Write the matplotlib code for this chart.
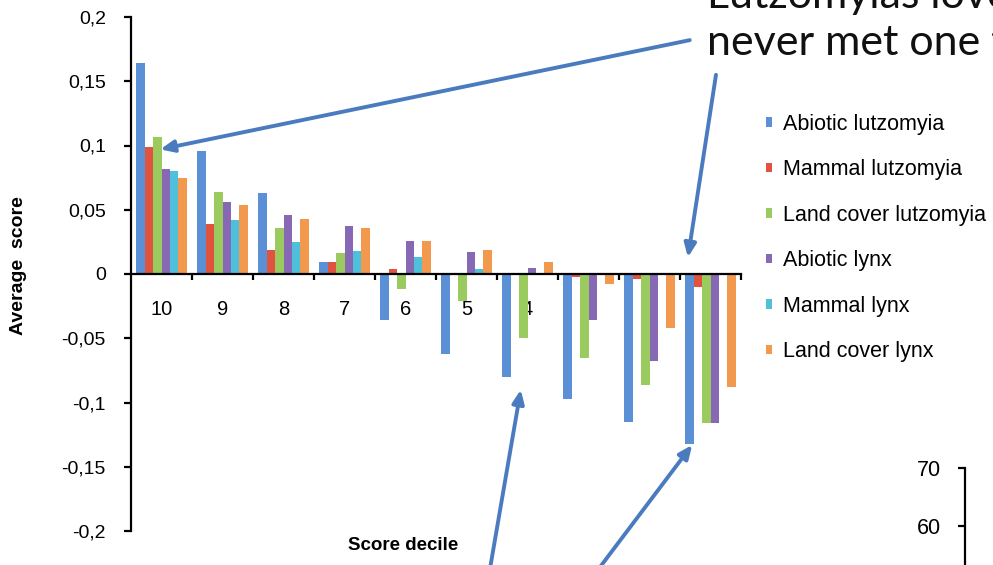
import matplotlib
matplotlib.use("Agg")
import matplotlib.pyplot as plt
import numpy as np
from matplotlib.patches import Patch
from matplotlib.ticker import FixedLocator, FixedFormatter

plt.rcParams["font.family"] = ["Liberation Sans", "DejaVu Sans"]

# data
deciles = ["10", "9", "8", "7", "6", "5", "4", "3", "2", "1"]
series_names = ["Abiotic lutzomyia", "Mammal lutzomyia", "Land cover lutzomyia",
                "Abiotic lynx", "Mammal lynx", "Land cover lynx"]
abiotic_lutz = [0.164, 0.096, 0.063, 0.009, -0.036, -0.062, -0.080, -0.097, -0.115, -0.132]
mammal_lutz = [0.099, 0.039, 0.019, 0.009, 0.004, 0.0, 0.0, -0.002, -0.004, -0.010]
landcover_lutz = [0.107, 0.064, 0.036, 0.016, -0.012, -0.021, -0.050, -0.065, -0.086, -0.116]
abiotic_lynx = [0.082, 0.056, 0.046, 0.037, 0.026, 0.017, 0.005, -0.036, -0.068, -0.116]
mammal_lynx = [0.080, 0.042, 0.025, 0.018, 0.013, 0.004, 0.0, 0.001, 0.0, 0.0]
landcover_lynx = [0.075, 0.054, 0.043, 0.036, 0.026, 0.019, 0.009, -0.008, -0.042, -0.088]
y_ticks = [-0.2, -0.15, -0.1, -0.05, 0, 0.05, 0.1, 0.15, 0.2]
y_tick_labels = ["-0,2", "-0,15", "-0,1", "-0,05", "0", "0,05", "0,1", "0,15", "0,2"]
inset_ticks = [60, 70]

colors = ["#5B8FD6", "#E0533F", "#9BCB5E", "#8768B5", "#4EC0DC", "#F3994E"]
arrow_col = "#4A7BBF"

fig = plt.figure(figsize=(9.93, 5.65), dpi=100)
ax = fig.add_axes([131 / 993, 1 - 531 / 565, 610 / 993, 514 / 565])

all_series = [abiotic_lutz, mammal_lutz, landcover_lutz, abiotic_lynx, mammal_lynx, landcover_lynx]
x = np.arange(len(deciles))
w = 0.137
for i, (vals, c) in enumerate(zip(all_series, colors)):
    ax.bar(x + (i - 2.5) * w, vals, width=w, color=c, linewidth=0, zorder=2)

ax.set_xlim(-0.5, 9.5)
ax.set_ylim(-0.2, 0.2)

# axes styling
for s in ["top", "right"]:
    ax.spines[s].set_visible(False)
ax.spines["bottom"].set_position(("data", 0))
ax.spines["bottom"].set_linewidth(1.6)
ax.spines["left"].set_linewidth(1.6)
ax.spines["bottom"].set_zorder(3)

ax.yaxis.set_major_locator(FixedLocator(y_ticks))
ax.yaxis.set_major_formatter(FixedFormatter(y_tick_labels))
ax.tick_params(axis="y", direction="out", length=5, width=1.6, pad=13, labelsize=14)

# group boundaries get the tick marks, group centres get the labels
ax.xaxis.set_major_locator(FixedLocator(list(x + 0.5)))
ax.xaxis.set_major_formatter(FixedFormatter([""] * len(x)))
ax.xaxis.set_minor_locator(FixedLocator(list(x)))
ax.xaxis.set_minor_formatter(FixedFormatter(deciles))
ax.tick_params(axis="x", which="major", direction="out", length=4, width=1.6)
ax.tick_params(axis="x", which="minor", length=0, pad=19, labelsize=14.5)

ax.set_ylabel("Average  score", fontsize=14, fontweight="bold")
ax.yaxis.set_label_coords(-0.17, 0.517)
ax.set_xlabel("Score decile", fontsize=13.5, fontweight="bold")
ax.xaxis.set_label_coords(0.446, -0.012)

# legend
handles = [Patch(facecolor=c, edgecolor="none", label=n) for c, n in zip(colors, series_names)]
fig.legend(handles=handles, loc="upper left", bbox_to_anchor=(757 / 993, 1 - 105 / 565),
           frameon=False, fontsize=15.5, handlelength=0.3, handleheight=0.3,
           handletextpad=0.5, labelspacing=1.14, borderaxespad=0)

# annotation arrows
arrows = [((8.66, 0.182), (-0.02, 0.097)),
          ((9.09, 0.155), (8.63, 0.013)),
          ((5.39, -0.228), (5.89, -0.090)),
          ((7.19, -0.228), (8.70, -0.133))]
for start, end in arrows:
    ax.annotate("", xy=end, xytext=start, annotation_clip=False,
                arrowprops=dict(arrowstyle="-|>,head_length=0.8,head_width=0.35",
                                color=arrow_col, lw=2.8, shrinkA=0, shrinkB=0),
                zorder=5)

# callout text, cut off at the figure edge as in the slide
fig.text(707 / 993, 1 - 8 / 565, "Lutzomyias love", fontsize=31, family="Lato",
         va="baseline", ha="left", color="#111111")
fig.text(707 / 993, 1 - 55 / 565, "never met one t", fontsize=31, family="Lato",
         va="baseline", ha="left", color="#111111")

# partial second chart in the lower right corner
ax2 = fig.add_axes([965 / 993, 0, 0.02, 97 / 565])
ax2.set_ylim(70 - 97 / 58 * 10, 70)
ax2.set_xlim(0, 1)
for s in ["top", "right", "bottom"]:
    ax2.spines[s].set_visible(False)
ax2.spines["left"].set_linewidth(1.6)
ax2.set_xticks([])
ax2.set_yticks(inset_ticks)
ax2.tick_params(axis="y", direction="out", length=5, width=1.6, pad=12, labelsize=15.5)
ax2.patch.set_alpha(0)

fig.savefig("out.png", dpi=100)
